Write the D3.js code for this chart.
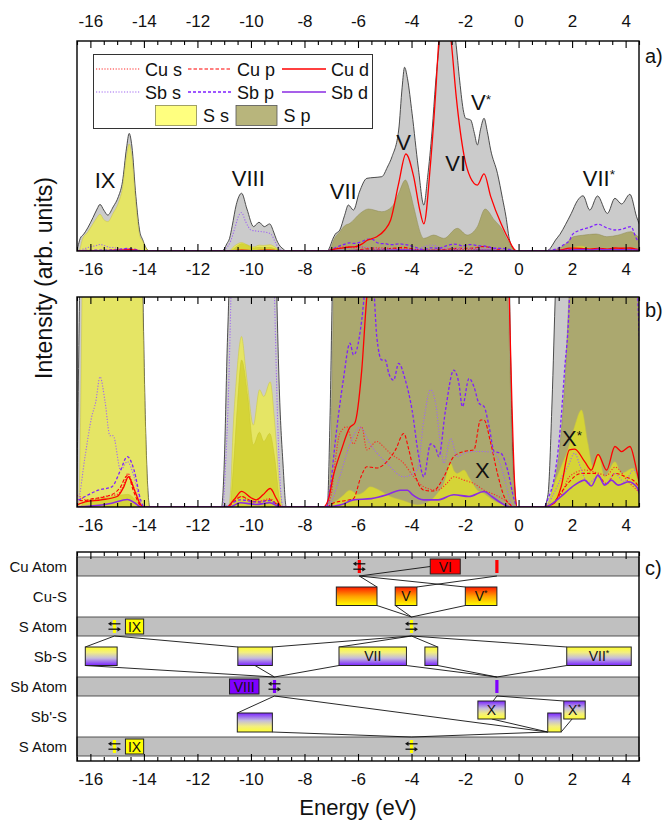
<!DOCTYPE html>
<html><head><meta charset="utf-8">
<script src="https://cdn.jsdelivr.net/npm/d3@7"></script>
<style>
body{margin:0;background:#fff;}
text{font-family:"Liberation Sans",Arial,Helvetica,sans-serif;fill:#111;}
</style></head><body>
<svg id="chart" width="667" height="823"></svg>
<script>
// ---------------- DATA (energy in eV, intensity in arb. units; panel b is a 20x zoom) -------------
const energyTicks = [-16,-14,-12,-10,-8,-6,-4,-2,0,2,4];

const totalDOS = [[-16.6,0],[-16.52,0],[-16.47,2],[-16.38,6],[-16.25,8],[-16.1,11],[-15.9,16],[-15.75,20],[-15.64,22.2],[-15.5,19.5],[-15.35,17.1],[-15.15,21],[-14.95,26],[-14.8,33],[-14.65,49],[-14.55,56],[-14.45,50],[-14.3,26],[-14.15,9],[-14.05,5.5],[-13.95,2.2],[-13.85,0.4],[-13.78,0],
[-11.1,0],[-11.0,1],[-10.9,3.5],[-10.8,6],[-10.7,12],[-10.55,22],[-10.35,27.5],[-10.15,20],[-9.9,11.6],[-9.7,13.7],[-9.5,11.6],[-9.3,12.9],[-9.15,9],[-9.05,5.5],[-8.95,3],[-8.8,1],[-8.68,0],
[-7.15,0],[-7.05,2],[-6.95,5.5],[-6.85,8],[-6.68,10],[-6.5,17],[-6.36,21.9],[-6.17,19.5],[-5.95,28],[-5.67,34.6],[-5.4,35],[-5.11,35.4],[-4.9,40],[-4.73,44.9],[-4.48,57.6],[-4.35,78],[-4.26,87.5],[-4.15,82],[-3.98,65.6],[-3.75,40],[-3.54,21.9],[-3.4,35],[-3.23,57.6],[-3.1,80],[-2.95,100],[-2.8,118],[-2.6,120],[-2.45,108],[-2.35,100],[-2.2,81],[-2.05,66],[-1.98,63.2],[-1.79,62.4],[-1.65,56],[-1.54,50.5],[-1.42,58],[-1.29,63.2],[-1.17,57],[-1.04,48],[-0.79,37],[-0.6,25],[-0.47,16.3],[-0.35,6],[-0.25,2],[-0.15,0.5],[-0.05,0],
[0.95,0],[1.1,0.3],[1.25,2.5],[1.38,5.2],[1.55,8],[1.75,12.5],[1.97,17.9],[2.2,24],[2.41,26.3],[2.66,19.5],[2.95,26.2],[3.32,17.9],[3.6,25.1],[3.85,22.4],[4.16,27],[4.41,16.3],[4.6,10]];

const sS = [[-16.6,0],[-16.45,0],[-16.38,1.5],[-16.3,5.5],[-16.1,9],[-15.9,13],[-15.75,16],[-15.64,17.5],[-15.5,15],[-15.35,14],[-15.15,18],[-14.95,23],[-14.8,30],[-14.65,45],[-14.55,51],[-14.45,45],[-14.3,22],[-14.15,7],[-14.05,4.8],[-13.95,2],[-13.85,0.3],[-13.8,0],
[-10.85,0],[-10.75,0.5],[-10.68,1.67],[-10.55,3],[-10.35,4.06],[-10.2,3.3],[-10.12,2.87],[-9.91,1.95],[-9.68,2.79],[-9.52,2.63],[-9.28,2.98],[-9.12,2.07],[-8.93,0.48],[-8.8,0],
[-7.1,0],[-6.9,0.1],[-6.6,0.25],[-6.3,0.4],[-6.0,0.3],[-5.8,0.35],[-5.55,0.48],[-5.2,0.4],[-4.8,0.25],[-4.29,0.15],[-3.79,0.05],[-3.3,0.15],[-3.0,0.35],[-2.79,0.56],[-2.54,1.04],[-2.4,0.85],[-2.29,0.8],[-2.04,0.88],[-1.85,0.7],[-1.54,0.4],[-1.29,0.32],[-1.04,0.2],[-0.6,0.05],[-0.3,0],
[0.95,0],[1.1,0.1],[1.34,0.56],[1.59,0.96],[1.84,1.36],[2.09,1.91],[2.35,2.31],[2.59,1.52],[2.78,0.96],[2.97,1.28],[3.22,0.72],[3.6,1.08],[3.85,0.8],[4.28,0.92],[4.53,0.48],[4.6,0.4]];

const sP = [[-16.6,0],[-16.4,0],[-16.2,0.15],[-15.6,0.2],[-14.6,0.3],[-14.2,0.1],[-14.0,0],
[-10.8,0],[-10.65,1],[-10.5,2.47],[-10.35,3.5],[-10.12,2.63],[-9.91,1.48],[-9.68,1.78],[-9.52,1.56],[-9.3,1.75],[-9.12,1.2],[-8.93,0.17],[-8.85,0],
[-7.1,0],[-7.0,2],[-6.9,5.5],[-6.8,7.5],[-6.68,9.2],[-6.5,12],[-6.3,13.2],[-5.92,17.9],[-5.61,20],[-5.11,18.7],[-4.73,21.1],[-4.48,27.5],[-4.23,33.8],[-4.05,28],[-3.92,21.1],[-3.54,6],[-3.17,7.6],[-2.79,6],[-2.29,10.8],[-1.92,7.6],[-1.54,11.6],[-1.25,20],[-0.91,14.8],[-0.6,10],[-0.45,6],[-0.35,4],[-0.25,1.5],[-0.15,0.3],[-0.05,0],
[1.0,0],[1.3,0.5],[1.55,1.5],[1.75,3.2],[1.9,5.2],[2.05,6.8],[2.4,7.5],[2.9,8.1],[3.3,6.8],[3.7,7.5],[4.2,9.2],[4.4,7.5],[4.6,5.2]];

const cuS = [[-16.6,0.3],[-16.4,0.25],[-16.1,0.15],[-15.5,0.25],[-15.0,0.3],[-14.75,0.55],[-14.6,0.8],[-14.4,0.5],[-14.15,0.1],[-14.0,0],
[-10.9,0],[-10.6,0.2],[-10.35,0.25],[-10.0,0.12],[-9.6,0.15],[-9.3,0.2],[-9.0,0.05],[-8.85,0],
[-7.2,0],[-7.0,0.3],[-6.85,1.1],[-6.68,1.75],[-6.42,1.91],[-6.17,1.5],[-5.86,1.91],[-5.67,1.36],[-5.3,1.56],[-5.05,1.44],[-4.8,1.28],[-4.29,1.04],[-3.92,0.72],[-3.54,0.48],[-3.04,0.4],[-2.7,0.55],[-2.42,0.72],[-2.04,0.64],[-1.67,0.56],[-1.29,0.4],[-0.91,0.3],[-0.54,0.17],[-0.3,0.05],[-0.2,0],
[1.0,0],[1.3,0.1],[1.6,0.3],[1.9,0.72],[2.47,0.88],[3.0,0.8],[3.29,0.75],[3.6,0.95],[4.1,0.6],[4.6,0.3]];

const cuP = [[-16.6,0.2],[-16.3,0.15],[-15.9,0.2],[-15.4,0.25],[-14.9,0.45],[-14.7,0.7],[-14.6,0.76],[-14.4,0.4],[-14.15,0.05],[-14.0,0],
[-10.9,0],[-10.6,0.15],[-10.35,0.25],[-10.0,0.15],[-9.7,0.12],[-9.3,0.17],[-9.0,0.05],[-8.85,0],
[-7.2,0],[-6.9,0.1],[-6.5,0.15],[-6.17,0.2],[-5.9,0.7],[-5.67,0.96],[-5.3,0.93],[-4.92,1.08],[-4.6,1.36],[-4.29,1.75],[-4.1,1.36],[-3.92,0.88],[-3.54,0.4],[-3.2,0.38],[-2.79,0.72],[-2.42,1.2],[-2.04,1.32],[-1.67,1.36],[-1.42,2.07],[-1.29,2.07],[-1.04,1.52],[-0.79,0.8],[-0.54,0.25],[-0.3,0.05],[-0.2,0],
[1.0,0],[1.3,0.1],[1.6,0.35],[1.84,0.56],[2.35,0.8],[2.85,0.8],[3.3,0.56],[3.6,0.8],[4.0,0.72],[4.35,0.6],[4.6,0.35]];

const cuD = [[-16.6,0],[-16.5,0.05],[-16.2,0.12],[-15.6,0.17],[-15.0,0.25],[-14.75,0.48],[-14.58,0.72],[-14.35,0.4],[-14.12,0.05],[-14.0,0],
[-10.9,0],[-10.6,0.2],[-10.35,0.37],[-10.0,0.22],[-9.8,0.17],[-9.55,0.29],[-9.28,0.44],[-9.05,0.2],[-8.85,0],
[-7.3,0],[-7.1,0.2],[-6.93,0.72],[-6.62,1.36],[-6.3,1.9],[-6.12,2.0],[-5.86,3.26],[-5.67,5],[-5.5,5.8],[-5.3,6.8],[-5.0,10],[-4.78,14.8],[-4.48,32.2],[-4.21,46.2],[-3.92,35.4],[-3.7,20],[-3.54,12.9],[-3.29,41.7],[-3.1,75],[-2.98,100],[-2.75,118],[-2.52,100],[-2.33,73.5],[-2.04,45.7],[-1.8,35],[-1.54,31.4],[-1.29,36.7],[-1.04,25.9],[-0.66,13.2],[-0.47,8],[-0.35,5],[-0.25,2.5],[-0.15,0.6],[-0.05,0],
[0.9,0],[1.1,0.02],[1.35,0.1],[1.59,0.48],[1.9,1.36],[2.1,1.38],[2.47,1.08],[2.72,0.88],[2.97,1.25],[3.29,0.88],[3.6,1.44],[3.85,1.32],[4.16,1.44],[4.41,0.88],[4.6,0.3]];

const sbS = [[-16.6,0],[-16.45,0.15],[-16.2,1.2],[-15.95,2.15],[-15.8,2.5],[-15.64,3.1],[-15.45,2.5],[-15.27,1.7],[-15.15,1.7],[-14.87,0.88],[-14.62,1.08],[-14.37,0.72],[-14.12,0.1],[-14.0,0],
[-11.05,0],[-10.95,1],[-10.85,2.5],[-10.75,5],[-10.6,11],[-10.45,17],[-10.35,18.3],[-10.2,14],[-10.0,10],[-9.8,9.5],[-9.6,9.2],[-9.4,8.8],[-9.25,8],[-9.12,5],[-9.0,2],[-8.9,0.5],[-8.8,0],
[-7.2,0],[-6.95,0.2],[-6.68,0.72],[-6.3,1.5],[-5.92,1.9],[-5.55,1.5],[-4.92,1.04],[-4.29,0.72],[-3.79,0.88],[-3.54,2.07],[-3.29,2.79],[-3.1,2.47],[-2.92,1.5],[-2.79,1.04],[-2.54,1.63],[-2.29,1.2],[-2.04,1.28],[-1.67,1.32],[-1.29,1.32],[-0.91,1.28],[-0.54,0.72],[-0.29,0.09],[-0.15,0],
[1.0,0],[1.3,0.3],[1.6,0.7],[1.84,0.96],[2.09,1.28],[2.35,0.88],[2.59,0.56],[2.97,0.72],[3.25,0.55],[3.6,0.8],[3.95,0.6],[4.3,0.88],[4.6,0.4]];

const sbP = [[-16.6,0.1],[-16.2,0.25],[-15.7,0.4],[-15.2,0.48],[-14.87,0.88],[-14.62,1.2],[-14.37,0.88],[-14.12,0.17],[-14.0,0],
[-11.0,0],[-10.7,0.1],[-10.4,0.17],[-9.8,0.12],[-9.3,0.15],[-9.0,0.05],[-8.85,0],
[-7.2,0],[-7.05,0.4],[-6.83,1.67],[-6.55,3.02],[-6.3,3.9],[-6.17,3.62],[-6.05,3.74],[-5.86,4.45],[-5.7,5.4],[-5.55,5.7],[-5.42,5.3],[-5.3,4.06],[-5.11,3.5],[-4.98,3.5],[-4.85,3.18],[-4.67,3.02],[-4.48,3.42],[-4.23,3.02],[-3.98,2.31],[-3.73,1.2],[-3.54,0.72],[-3.29,1.5],[-3.1,1.4],[-2.98,1.2],[-2.73,2.31],[-2.42,3.26],[-2.23,2.94],[-2.1,2.39],[-1.85,3.06],[-1.67,2.87],[-1.48,2.47],[-1.29,2.39],[-1.1,1.91],[-0.91,1.32],[-0.66,1.28],[-0.41,0.88],[-0.16,0.17],[-0.05,0],
[0.95,0],[1.1,0.2],[1.34,0.72],[1.53,1.67],[1.72,3.26],[1.9,5],[2.0,7.6],[2.3,10],[2.6,11],[2.97,12.7],[3.3,11],[3.6,10],[3.9,10.5],[4.2,11.6],[4.4,6],[4.6,3]];

const sbD = [[-16.6,0],[-16.0,0.02],[-15.2,0.09],[-14.62,0.18],[-14.35,0.1],[-14.1,0],
[-10.8,0],[-10.4,0.1],[-9.8,0.06],[-9.3,0.1],[-8.9,0],
[-7.2,0],[-6.6,0.06],[-6.17,0.17],[-5.5,0.2],[-4.92,0.29],[-4.42,0.4],[-4.15,0.4],[-3.98,0.3],[-3.54,0.17],[-3.0,0.17],[-2.42,0.29],[-1.85,0.25],[-1.29,0.37],[-1.0,0.25],[-0.66,0.1],[-0.3,0],
[1.0,0],[1.3,0.1],[1.59,0.25],[2.09,0.52],[2.47,0.64],[2.72,0.5],[2.97,0.76],[3.22,0.52],[3.47,0.64],[3.72,0.52],[4.1,0.6],[4.41,0.48],[4.6,0.15]];

// peak labels (energy, intensity in panel units)
const peakLabelsA = [{t:"IX",e:-15.45,v:30},{t:"VIII",e:-10.1,v:31},{t:"VII",e:-6.55,v:25},{t:"V",e:-4.3,v:48},{t:"VI",e:-2.35,v:38},{t:"V",s:"*",e:-1.4,v:67},{t:"VII",s:"*",e:3.0,v:31}];
const peakLabelsB = [{t:"X",e:-1.35,v:0.7},{t:"X",s:"*",e:2.0,v:1.45}];

// level diagram (panel c)
const rowNames = ["Cu Atom","Cu-S","S Atom","Sb-S","Sb Atom","Sb'-S","S Atom"];
const rowKinds = ["atom","bond","atom","bond","atom","bond","atom"];
const levelBoxes = [
 {id:"VI",row:0,e0:-3.30,e1:-2.18,label:"VI",fill:"cu"},
 {id:"CuS1",row:1,e0:-6.81,e1:-5.29,label:"",fill:"cuS"},
 {id:"V",row:1,e0:-4.61,e1:-3.80,label:"V",fill:"cuS"},
 {id:"Vs",row:1,e0:-1.99,e1:-0.81,label:"V",sup:"*",fill:"cuS"},
 {id:"IXa",row:2,e0:-14.69,e1:-14.01,label:"IX",fill:"s"},
 {id:"SbS1",row:3,e0:-16.19,e1:-15.0,label:"",fill:"sbS"},
 {id:"SbS2",row:3,e0:-10.49,e1:-9.2,label:"",fill:"sbS"},
 {id:"VII",row:3,e0:-6.71,e1:-4.19,label:"VII",fill:"sbS"},
 {id:"SbS4",row:3,e0:-3.5,e1:-3.02,label:"",fill:"sbS"},
 {id:"VIIs",row:3,e0:1.80,e1:4.21,label:"VII",sup:"*",fill:"sbS"},
 {id:"VIII",row:4,e0:-10.8,e1:-9.7,label:"VIII",fill:"sb"},
 {id:"SbpS1",row:5,e0:-10.51,e1:-9.2,label:"",fill:"sbpS",tier:"low"},
 {id:"X",row:5,e0:-1.52,e1:-0.50,label:"X",fill:"sbpS",tier:"high"},
 {id:"SbpS3",row:5,e0:1.09,e1:1.59,label:"",fill:"sbpS",tier:"low"},
 {id:"Xs",row:5,e0:1.69,e1:2.49,label:"X",sup:"*",fill:"sbpS",tier:"high"},
 {id:"IXb",row:6,e0:-14.69,e1:-14.01,label:"IX",fill:"s"}
];
const occupiedLevels = [{id:"Cu",row:0,e:-5.95,el:"cu"},{id:"S1a",row:2,e:-15.1,el:"s"},{id:"S2a",row:2,e:-4.0,el:"s"},{id:"Sb",row:4,e:-9.12,el:"sb"},{id:"S1b",row:6,e:-15.1,el:"s"},{id:"S2b",row:6,e:-4.0,el:"s"}];
const emptyLevels = [{id:"CuU",row:0,e:-0.81,el:"cu"},{id:"SbU",row:4,e:-0.81,el:"sb"}];
const connectors = [
 ["Cu","bottom",null,"CuS1","top",-5.29],["Cu","bottom",null,"Vs","top",-1.99],["Cu","bottom",null,"VI","left",null],
 ["V","top",-3.80,"CuU","bottom",null],
 ["S2a","top",null,"CuS1","bottom",-5.29],["S2a","top",null,"V","bottom",-4.61],["S2a","top",null,"Vs","bottom",-1.99],
 ["S1a","bottom",null,"SbS1","top",-16.19],["S1a","bottom",null,"SbS2","top",-10.49],
 ["S2a","bottom",null,"SbS2","top",-9.2],["S2a","bottom",null,"VII","top",-6.71],["S2a","bottom",null,"SbS4","top",-3.02],["S2a","bottom",null,"VIIs","top",1.80],
 ["Sb","top",null,"SbS1","bottom",-16.19],["Sb","top",null,"SbS2","bottom",-9.85],["Sb","top",null,"VII","bottom",-6.71],
 ["SbU","top",null,"VII","bottom",-4.19],["SbU","top",null,"SbS4","bottom",-3.02],["SbU","top",null,"VIIs","bottom",1.80],
 ["Sb","bottom",null,"SbpS1","top",-10.51],["Sb","bottom",null,"SbpS3","bottom",1.09],
 ["SbpS1","bottom",-9.2,"S2b","top",null],["S2b","top",null,"SbpS3","bottom",1.09],
 ["SbU","bottom",null,"X","top",-0.95],["SbU","bottom",null,"Xs","top",1.69],
 ["X","bottom",-1.0,"SbpS3","bottom",1.09],["Xs","bottom",2.0,"SbpS3","bottom",1.59]
];

// ---------------- DRAWING ----------------
const svg = d3.select("#chart");
const L = 77, R = 639;
const x = d3.scaleLinear().domain([-16.5,4.5]).range([L,R]);
const ya = d3.scaleLinear().domain([0,100]).range([251,41]);
const yb = d3.scaleLinear().domain([0,5]).range([507,297]);

const styles = {
  cuS:{color:"#ff2a2a",dash:"1.2,1.6",w:1.1},
  cuP:{color:"#ff0000",dash:"3.5,2",w:1.1},
  cuD:{color:"#ff0000",dash:null,w:1.3},
  sbS:{color:"#a068f0",dash:"1.2,1.6",w:1.1},
  sbP:{color:"#7f1fff",dash:"3,2",w:1.3},
  sbD:{color:"#8a2be2",dash:null,w:1.6}
};
const seriesData = {cuS, cuP, cuD, sbS, sbP, sbD};
const elColor = {cu:"#ff0000", s:"#ffff00", sb:"#7f00ff"};

const defs = svg.append("defs");
function grad(id, stops){
  const g = defs.append("linearGradient").attr("id",id).attr("x1",0).attr("y1",0).attr("x2",0).attr("y2",1);
  stops.forEach(([o,c])=>g.append("stop").attr("offset",o).attr("stop-color",c));
}
grad("gCuS",[[0,"#ff1a00"],[0.5,"#ffa000"],[1,"#ffff00"]]);
grad("gSbS",[[0,"#ffff30"],[0.3,"#f2ee80"],[0.6,"#c4bcdc"],[1,"#7a22ff"]]);
grad("gSbpS",[[0,"#7a22ff"],[0.4,"#c4bcdc"],[0.7,"#f2ee80"],[1,"#ffff30"]]);
const boxFill = {cu:"#ff0000", s:"#ffff00", sb:"#7f00ff", cuS:"url(#gCuS)", sbS:"url(#gSbS)", sbpS:"url(#gSbpS)"};

function drawAxes(y0, y1, topLabels, bottomLabels){
  const majors = energyTicks;
  const minors = d3.range(-16.5,4.51,0.5).filter(v=>!majors.includes(v));
  const g = svg.append("g");
  const top = g.append("g").attr("transform",`translate(0,${y0})`);
  top.append("g").call(d3.axisTop(x).tickValues(minors).tickSize(-4).tickFormat(""));
  top.append("g").call(d3.axisTop(x).tickValues(majors).tickSize(-7).tickPadding(14).tickFormat(d=>topLabels?String(d):""));
  const bot = g.append("g").attr("transform",`translate(0,${y1})`);
  bot.append("g").call(d3.axisBottom(x).tickValues(minors).tickSize(-4).tickFormat(""));
  bot.append("g").call(d3.axisBottom(x).tickValues(majors).tickSize(-7).tickPadding(12).tickFormat(d=>bottomLabels?String(d):""));
  g.selectAll(".domain").remove();
  g.selectAll(".tick line").attr("stroke","#000").attr("stroke-width",1.1);
  g.selectAll(".tick text").attr("font-size",17).attr("fill","#111").attr("font-family","Liberation Sans, Arial, sans-serif");
  svg.append("rect").attr("x",L).attr("y",y0).attr("width",R-L).attr("height",y1-y0)
    .attr("fill","none").attr("stroke","#000").attr("stroke-width",1.4);
}

function drawDOS(y, clipId){
  const y0 = y.range()[0], y1 = y.range()[1];
  defs.append("clipPath").attr("id",clipId).append("rect").attr("x",L).attr("y",y1).attr("width",R-L).attr("height",y0-y1);
  const g = svg.append("g").attr("clip-path",`url(#${clipId})`);
  const area = d3.area().x(d=>x(d[0])).y0(y(0)).y1(d=>y(d[1])).curve(d3.curveMonotoneX);
  const line = d3.line().x(d=>x(d[0])).y(d=>y(d[1])).curve(d3.curveMonotoneX);
  g.append("path").attr("d",area(totalDOS)).attr("fill","#cbcbcb").attr("stroke","#3a3a3a").attr("stroke-width",0.9);
  g.append("path").attr("d",area(sP)).attr("fill","#a09c50").attr("fill-opacity",0.75).attr("stroke","#8c8850").attr("stroke-width",0.5);
  g.append("path").attr("d",area(sS)).attr("fill","#ffff00").attr("fill-opacity",0.5).attr("stroke","#c8c440").attr("stroke-width",0.5);
  ["cuS","cuP","sbS","sbP","cuD","sbD"].forEach(k=>{
    const s = styles[k];
    g.append("path").attr("d",line(seriesData[k])).attr("fill","none").attr("stroke",s.color)
      .attr("stroke-width",s.w).attr("stroke-dasharray",s.dash);
  });
}

function peakText(g, p, y, size){
  const t = g.append("text").attr("x",x(p.e)).attr("y",y(p.v)).attr("text-anchor","middle").attr("font-size",size).text(p.t);
  if(p.s) t.append("tspan").attr("font-size",size*0.62).attr("dy",-size*0.3).text(p.s);
}

// Panel a
drawDOS(ya,"clipA");
drawAxes(41,251,true,true);
const la = svg.append("g");
peakLabelsA.forEach(p=>peakText(la,p,ya,22));

// legend
const leg = svg.append("g");
leg.append("rect").attr("x",93.5).attr("y",54.5).attr("width",279).attr("height",74).attr("fill","#fff").attr("stroke","#333").attr("stroke-width",1);
const legItems = [
 {k:"cuS",n:"Cu s",c:0,r:0},{k:"cuP",n:"Cu p",c:1,r:0},{k:"cuD",n:"Cu d",c:2,r:0},
 {k:"sbS",n:"Sb s",c:0,r:1},{k:"sbP",n:"Sb p",c:1,r:1},{k:"sbD",n:"Sb d",c:2,r:1}];
const colX = [96,188,282];
legItems.forEach(it=>{
  const s = styles[it.k]; const ly = 69 + it.r*23;
  leg.append("line").attr("x1",colX[it.c]).attr("x2",colX[it.c]+44).attr("y1",ly).attr("y2",ly)
    .attr("stroke",s.color).attr("stroke-width",s.w).attr("stroke-dasharray",s.dash);
  leg.append("text").attr("x",colX[it.c]+49).attr("y",ly+6.5).attr("font-size",18).text(it.n);
});
leg.append("rect").attr("x",155.5).attr("y",105.5).attr("width",41).attr("height",20).attr("fill","#ffff00").attr("fill-opacity",0.5).attr("stroke","#8a8a50").attr("stroke-width",0.8);
leg.append("text").attr("x",203).attr("y",121.5).attr("font-size",18).text("S s");
leg.append("rect").attr("x",236).attr("y",105.5).attr("width",41).attr("height",20).attr("fill","#a09c50").attr("fill-opacity",0.75).attr("stroke","#555").attr("stroke-width",0.8);
leg.append("text").attr("x",283.5).attr("y",121.5).attr("font-size",18).text("S p");

// Panel b
drawDOS(yb,"clipB");
drawAxes(297,507,false,true);
const lb = svg.append("g");
peakLabelsB.forEach(p=>peakText(lb,p,yb,22));

// panel letters
[["a)",63],["b)",317],["c)",575]].forEach(([t,yy])=>svg.append("text").attr("x",645).attr("y",yy).attr("font-size",20).text(t));

// y title
svg.append("text").attr("transform","translate(52,278) rotate(-90)").attr("text-anchor","middle").attr("font-size",23).text("Intensity (arb. units)");

// Panel c
const rows = []; let yy = 557;
rowNames.forEach((n,i)=>{const h = rowKinds[i]==="atom"?19:41; rows.push({name:n,kind:rowKinds[i],y0:yy,y1:yy+h}); yy+=h;});
const pc = svg.append("g");
rows.forEach(r=>{
  if(r.kind==="atom") pc.append("rect").attr("x",L).attr("y",r.y0).attr("width",R-L).attr("height",r.y1-r.y0).attr("fill","#c0c0c0").attr("stroke","#444").attr("stroke-width",0.9);
  pc.append("text").attr("x",67).attr("y",(r.y0+r.y1)/2+5.3).attr("text-anchor","end").attr("font-size",15).text(r.name);
});
function boxGeom(b){
  const r = rows[b.row];
  let y0,h;
  if(r.kind==="atom"){y0=r.y0+2;h=r.y1-r.y0-4;}
  else if(b.tier==="low"){y0=r.y0+17;h=19;}
  else if(b.tier==="high"){y0=r.y0+5;h=18;}
  else {y0=r.y0+11;h=18.5;}
  return {x0:x(b.e0),x1:x(b.e1),y0,y1:y0+h};
}
const elems = {};
levelBoxes.forEach(b=>elems[b.id]={type:"box",b,g:boxGeom(b)});
occupiedLevels.concat(emptyLevels).forEach(s=>elems[s.id]={type:"lvl",s,r:rows[s.row]});
function anchor(id, side, e){
  const el = elems[id];
  if(el.type==="box"){
    if(side==="left") return [el.g.x0,(el.g.y0+el.g.y1)/2];
    return [x(e), side==="top"?el.g.y0:el.g.y1];
  }
  return [x(el.s.e), side==="top"?el.r.y0:el.r.y1];
}
connectors.forEach(c=>{
  const a = anchor(c[0],c[1],c[2]), b = anchor(c[3],c[4],c[5]);
  pc.append("line").attr("x1",a[0]).attr("y1",a[1]).attr("x2",b[0]).attr("y2",b[1]).attr("stroke","#111").attr("stroke-width",0.9);
});
levelBoxes.forEach(b=>{
  const g = elems[b.id].g;
  pc.append("rect").attr("x",g.x0).attr("y",g.y0).attr("width",g.x1-g.x0).attr("height",g.y1-g.y0)
    .attr("fill",boxFill[b.fill]).attr("stroke","#222").attr("stroke-width",1);
  if(b.label){
    const t = pc.append("text").attr("x",(g.x0+g.x1)/2).attr("y",(g.y0+g.y1)/2+5).attr("text-anchor","middle").attr("font-size",14).attr("fill","#222").text(b.label);
    if(b.sup) t.append("tspan").attr("font-size",9).attr("dy",-5).text(b.sup);
  }
});
occupiedLevels.forEach(s=>{
  const r = rows[s.row], cx = x(s.e), cy = (r.y0+r.y1)/2;
  pc.append("rect").attr("x",cx-1.6).attr("y",cy-6.5).attr("width",3.2).attr("height",13).attr("fill",elColor[s.el]);
  pc.append("line").attr("x1",cx+6).attr("x2",cx-4).attr("y1",cy-2.7).attr("y2",cy-2.7).attr("stroke","#111").attr("stroke-width",1.3);
  pc.append("path").attr("d",`M${cx-6.5},${cy-2.7}L${cx-3},${cy-5}L${cx-3},${cy-0.4}Z`).attr("fill","#111");
  pc.append("line").attr("x1",cx-6).attr("x2",cx+4).attr("y1",cy+2.7).attr("y2",cy+2.7).attr("stroke","#111").attr("stroke-width",1.3);
  pc.append("path").attr("d",`M${cx+6.5},${cy+2.7}L${cx+3},${cy+0.4}L${cx+3},${cy+5}Z`).attr("fill","#111");
});
emptyLevels.forEach(s=>{
  const r = rows[s.row], cx = x(s.e);
  pc.append("rect").attr("x",cx-1.6).attr("y",r.y0+3).attr("width",3.2).attr("height",r.y1-r.y0-6).attr("fill",elColor[s.el]);
});
drawAxes(552,761,false,true);
svg.append("text").attr("x",(L+R)/2).attr("y",815).attr("text-anchor","middle").attr("font-size",22).text("Energy (eV)");
</script>
</body></html>
